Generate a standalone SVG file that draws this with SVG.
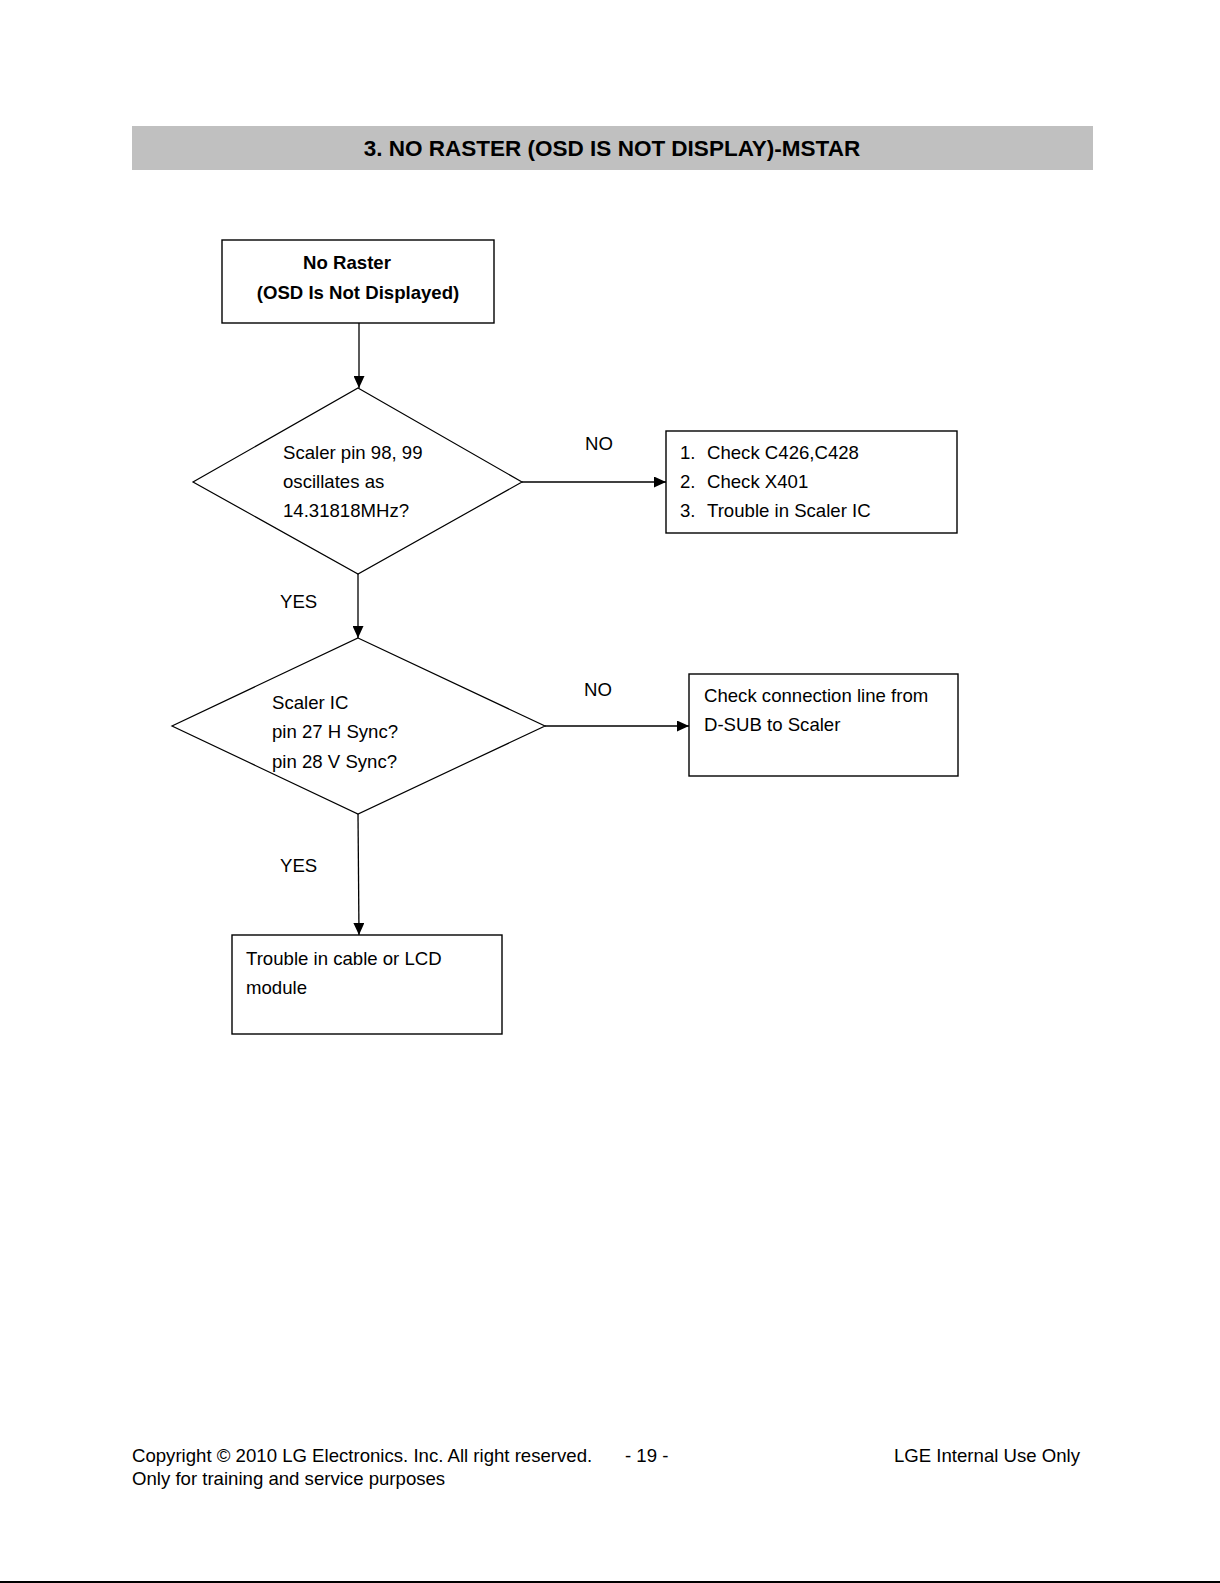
<svg xmlns="http://www.w3.org/2000/svg" width="1220" height="1583" viewBox="0 0 1220 1583">
<defs>
<marker id="ah" markerUnits="userSpaceOnUse" markerWidth="13" markerHeight="11" refX="12" refY="5.5" orient="auto">
<path d="M0,0 L12,5.5 L0,11 Z" fill="#000"/>
</marker>
<style>
.t{font-family:"Liberation Sans",Arial,sans-serif;font-size:18.6px;fill:#000}
.b{font-family:"Liberation Sans",Arial,sans-serif;font-size:18.6px;font-weight:bold;fill:#000}
.box{fill:#fff;stroke:#000;stroke-width:1.4}
.dia{fill:#fff;stroke:#000;stroke-width:1.2}
.conn{stroke:#000;stroke-width:1.3;fill:none;marker-end:url(#ah)}
</style>
</defs>
<rect width="1220" height="1583" fill="#fff"/>
<g id="header">
<rect x="132" y="126" width="961" height="44" fill="#c0c0c0"/>
<text x="612" y="156" text-anchor="middle" font-family="Liberation Sans, Arial, sans-serif" font-size="22.5" font-weight="bold">3. NO RASTER (OSD IS NOT DISPLAY)-MSTAR</text>
</g>
<g id="connectors">
<line class="conn" x1="359" y1="323" x2="359" y2="388"/>
<line class="conn" x1="522" y1="482" x2="666" y2="482"/>
<line class="conn" x1="358" y1="574" x2="358" y2="638"/>
<line class="conn" x1="545" y1="726" x2="689" y2="726"/>
<line class="conn" x1="358" y1="814" x2="359" y2="935"/>
<text class="t" x="585" y="450">NO</text>
<text class="t" x="280" y="608">YES</text>
<text class="t" x="584" y="696">NO</text>
<text class="t" x="280" y="872">YES</text>
</g>
<g id="start">
<rect class="box" x="222" y="240" width="272" height="83"/>
<text class="b" x="347" y="269" text-anchor="middle">No Raster</text>
<text class="b" x="358" y="299" text-anchor="middle">(OSD Is Not Displayed)</text>
</g>
<g id="decision1">
<polygon class="dia" points="358,388 522,482 358,574 193,482"/>
<text class="t" x="283" y="459">Scaler pin 98, 99</text>
<text class="t" x="283" y="488">oscillates as</text>
<text class="t" x="283" y="517">14.31818MHz?</text>
</g>
<g id="action1">
<rect class="box" x="666" y="431" width="291" height="102"/>
<text class="t" x="680" y="459">1.</text><text class="t" x="707" y="459">Check C426,C428</text>
<text class="t" x="680" y="488">2.</text><text class="t" x="707" y="488">Check X401</text>
<text class="t" x="680" y="517">3.</text><text class="t" x="707" y="517">Trouble in Scaler IC</text>
</g>
<g id="decision2">
<polygon class="dia" points="358,638 545,726 358,814 172,726"/>
<text class="t" x="272" y="709">Scaler IC</text>
<text class="t" x="272" y="738">pin 27 H Sync?</text>
<text class="t" x="272" y="768">pin 28 V Sync?</text>
</g>
<g id="action2">
<rect class="box" x="689" y="674" width="269" height="102"/>
<text class="t" x="704" y="702">Check connection line from</text>
<text class="t" x="704" y="731">D-SUB to Scaler</text>
</g>
<g id="result">
<rect class="box" x="232" y="935" width="270" height="99"/>
<text class="t" x="246" y="965">Trouble in cable or LCD</text>
<text class="t" x="246" y="994">module</text>
</g>
<g id="footer">
<text class="t" x="132" y="1462">Copyright © 2010 LG Electronics. Inc. All right reserved.</text>
<text class="t" x="625" y="1462">- 19 -</text>
<text class="t" x="1080" y="1462" text-anchor="end">LGE Internal Use Only</text>
<text class="t" x="132" y="1485">Only for training and service purposes</text>
<rect x="0" y="1581" width="1220" height="2" fill="#000"/>
</g>
</svg>
